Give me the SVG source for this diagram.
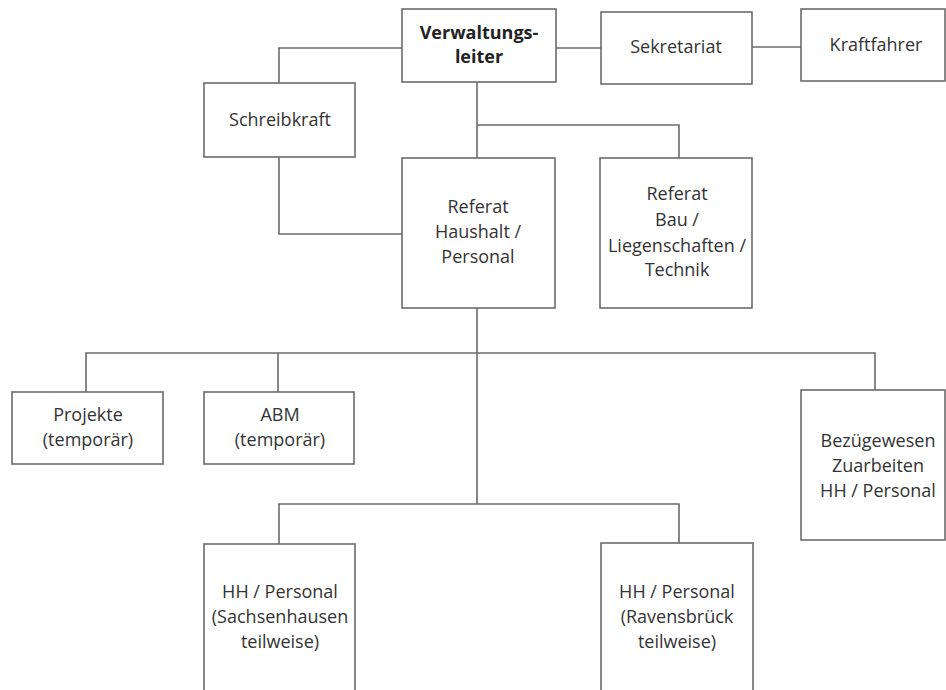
<svg xmlns="http://www.w3.org/2000/svg" width="946" height="690" viewBox="0 0 946 690">
<style>
.box{fill:#fff;stroke:#6b6b6b;stroke-width:1.6}
.ln{fill:none;stroke:#6b6b6b;stroke-width:1.6}
text{font-family:"Open Sans","DejaVu Sans",sans-serif;font-size:18px;fill:#333;text-anchor:middle}
.b{font-weight:bold;fill:#222}
</style>
<rect width="946" height="690" fill="#fff"/>
<g id="connectors">
<path class="ln" d="M402,48 H279 V83"/>
<path class="ln" d="M556,48 H601"/>
<path class="ln" d="M752,47 H801"/>
<path class="ln" d="M477,82 V158"/>
<path class="ln" d="M477,125 H679 V158"/>
<path class="ln" d="M279,157 V234 H402"/>
<path class="ln" d="M477,308 V504"/>
<path class="ln" d="M86,392 V353 H875 V390"/>
<path class="ln" d="M278,353 V392"/>
<path class="ln" d="M279,544 V504 H679 V543"/>
</g>
<g id="verwaltungsleiter"><rect class="box" x="402" y="9" width="154" height="73"/><text class="b" x="479" y="39">Verwaltungs-</text><text class="b" x="479" y="63">leiter</text></g>
<g id="sekretariat"><rect class="box" x="601" y="12" width="151" height="72"/><text x="676" y="53">Sekretariat</text></g>
<g id="kraftfahrer"><rect class="box" x="801" y="9" width="144" height="72"/><text x="876" y="51">Kraftfahrer</text></g>
<g id="schreibkraft"><rect class="box" x="204" y="83" width="151" height="74"/><text x="280" y="126">Schreibkraft</text></g>
<g id="referat-haushalt"><rect class="box" x="402" y="158" width="153" height="150"/><text x="478" y="213">Referat</text><text x="478" y="238">Haushalt /</text><text x="478" y="263">Personal</text></g>
<g id="referat-bau"><rect class="box" x="600" y="158" width="152" height="150"/><text x="677" y="200">Referat</text><text x="677" y="226">Bau /</text><text x="677" y="252">Liegenschaften /</text><text x="677" y="276">Technik</text></g>
<g id="projekte"><rect class="box" x="12" y="392" width="151" height="72"/><text x="88" y="421">Projekte</text><text x="88" y="446">(temporär)</text></g>
<g id="abm"><rect class="box" x="204" y="392" width="150" height="72"/><text x="280" y="421">ABM</text><text x="280" y="446">(temporär)</text></g>
<g id="bezuegewesen"><rect class="box" x="801" y="390" width="144" height="150"/><text x="878" y="447">Bezügewesen</text><text x="878" y="472">Zuarbeiten</text><text x="878" y="497">HH / Personal</text></g>
<g id="hh-sachsenhausen"><rect class="box" x="204" y="544" width="151" height="160"/><text x="280" y="598">HH / Personal</text><text x="280" y="623">(Sachsenhausen</text><text x="280" y="648">teilweise)</text></g>
<g id="hh-ravensbrueck"><rect class="box" x="601" y="543" width="152" height="160"/><text x="677" y="598">HH / Personal</text><text x="677" y="623">(Ravensbrück</text><text x="677" y="648">teilweise)</text></g>
</svg>
